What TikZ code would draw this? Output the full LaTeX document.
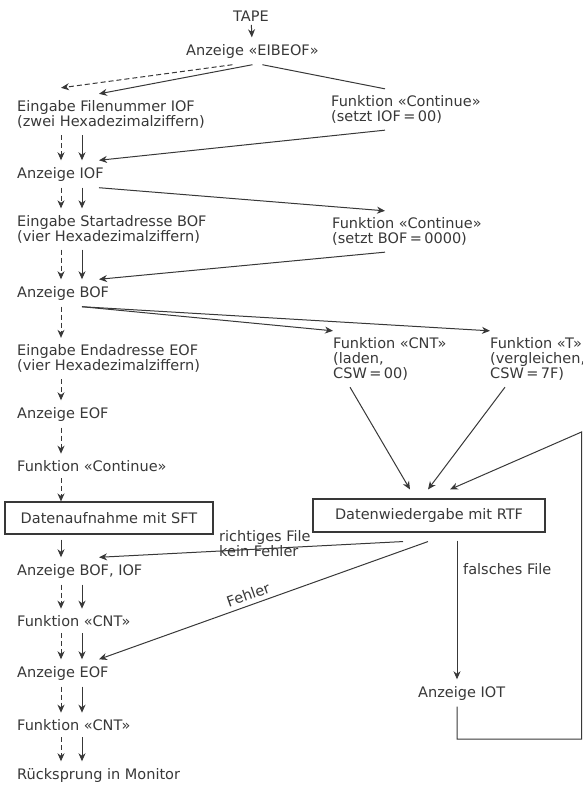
\documentclass[tikz,border=0pt]{standalone}
\usepackage{fontspec}
\setmainfont{DejaVu Sans}
\usetikzlibrary{arrows.meta, calc}
\definecolor{ink}{HTML}{383838}

\begin{document}
\begin{tikzpicture}[x=1pt, y=-1pt, font=\fontsize{14.5}{15}\selectfont,
    lbl/.style={anchor=west, inner xsep=0pt, inner ysep=6.5pt, align=left, text=ink},
    box/.style={draw=ink, line width=1.1pt, text=ink, inner sep=0pt},
    ln/.style={draw=ink, line width=1pt},
    arr/.style={ln, -{Stealth[length=8pt, width=7pt, inset=2.5pt]}},
    dsh/.style={arr, dash pattern=on 5pt off 3pt}]
    \useasboundingbox (0,0) rectangle (583,787);

    % columns for the vertical arrows
    \coordinate (dcol) at (61,0);
    \coordinate (scol) at (82,0);
    \coordinate (ecol) at (99,0);
    \coordinate (rcol) at (385,0);

    \node[text=ink] (tape) at (251,16) {TAPE};
    \node[lbl] (eib) at (186,51) {Anzeige «EIBEOF»};
    \node[lbl] (efn) at (17,114.5) {Eingabe Filenummer IOF\\(zwei Hexadezimalziffern)};
    \node[lbl] (con1) at (331,109.5) {Funktion «Continue»\\(setzt IOF\,=\,00)};
    \node[lbl] (aiof) at (17,174) {Anzeige IOF};
    \node[lbl] (esa) at (17,229) {Eingabe Startadresse BOF\\(vier Hexadezimalziffern)};
    \node[lbl] (con2) at (332,231.5) {Funktion «Continue»\\(setzt BOF\,=\,0000)};
    \node[lbl] (abof) at (17,293) {Anzeige BOF};
    \node[lbl] (eea) at (17,358.5) {Eingabe Endadresse EOF\\(vier Hexadezimalziffern)};
    \node[lbl] (cnt) at (333,359) {Funktion «CNT»\\(laden,\\CSW\,=\,00)};
    \node[lbl] (tfn) at (490,359) {Funktion «T»\\(vergleichen,\\CSW\,=\,7F)};
    \node[lbl] (aeof) at (17,414) {Anzeige EOF};
    \node[lbl] (fcon) at (17,466) {Funktion «Continue»};
    \node[box, minimum width=208pt, minimum height=32pt] (sft) at (109,518) {Datenaufnahme mit SFT};
    \node[box, minimum width=232pt, minimum height=33pt] (rtf) at (429,515.5) {Datenwiedergabe mit RTF};
    \node[lbl] (abi) at (17,571) {Anzeige BOF, IOF};
    \node[lbl] (cnt1) at (17,621) {Funktion «CNT»};
    \node[lbl] (aeof2) at (17,673) {Anzeige EOF};
    \node[lbl] (cnt2) at (17,725) {Funktion «CNT»};
    \node[lbl] (rueck) at (17,775) {Rücksprung in Monitor};
    \node[lbl] (aiot) at (418,693) {Anzeige IOT};
    \node[lbl] (rfl) at (219,543.5) {richtiges File\\kein Fehler};
    \node[lbl, rotate=19.3] (fl) at (227,602) {Fehler};
    \node[lbl] (ffl) at (463,569) {falsches File};

    % top part
    \draw[arr] (tape) -- (eib);
    \draw[dsh] ([xshift=-20pt]eib.south) -- ([yshift=6pt]efn.north -| dcol);
    \draw[arr] (eib.south) -- (efn.north -| ecol);
    \draw[ln] ([xshift=10pt]eib.south) -- (con1.north -| rcol);
    \draw[arr] (con1.south -| rcol) -- (aiof.north -| ecol);
    \draw[arr] (aiof.south -| ecol) -- (con2.north -| rcol);
    \draw[arr] (con2.south -| rcol) -- (abof.north -| ecol);
    \draw[arr] (abof.south -| scol) -- (cnt.north west);
    \draw[arr] (abof.south -| scol) -- (tfn.north west);

    % left column
    \foreach \a/\b in {efn/aiof, aiof/esa, esa/abof, abi/cnt1, cnt1/aeof2, aeof2/cnt2, cnt2/rueck} {
        \draw[dsh] (\a.south -| dcol) -- (\b.north -| dcol);
        \draw[arr] (\a.south -| scol) -- (\b.north -| scol);
    }
    \foreach \a/\b in {abof/eea, eea/aeof, aeof/fcon, fcon/sft}
        \draw[dsh] (\a.south -| dcol) -- (\b.north -| dcol);
    \draw[arr, shorten <=5pt] (sft.south -| dcol) -- (abi.north -| dcol);

    % RTF part
    \draw[arr] ($(cnt.south west)+(17,0)$) -- ($(rtf.north)+(-19,-9)$);
    \draw[arr] ($(tfn.south west)+(15,0)$) -- ($(rtf.north)+(-1,-9)$);
    \draw[arr] ($(rtf.south)+(-26,9)$) -- (abi.north -| ecol);
    \draw[arr] ($(rtf.south)+(-1,9)$) -- (aeof2.north -| ecol);
    \coordinate (ff) at ($(rtf.south)+(28,8)$);
    \draw[arr] (ff) -- (aiot.north -| ff);
    \coordinate (lbr) at (581.5,739);
    \coordinate (ltr) at (581.5,432);
    \draw[arr] (aiot.south -| ff) |- (lbr) -- (ltr) -- ($(rtf.north)+(21,-9)$);
\end{tikzpicture}
\end{document}
